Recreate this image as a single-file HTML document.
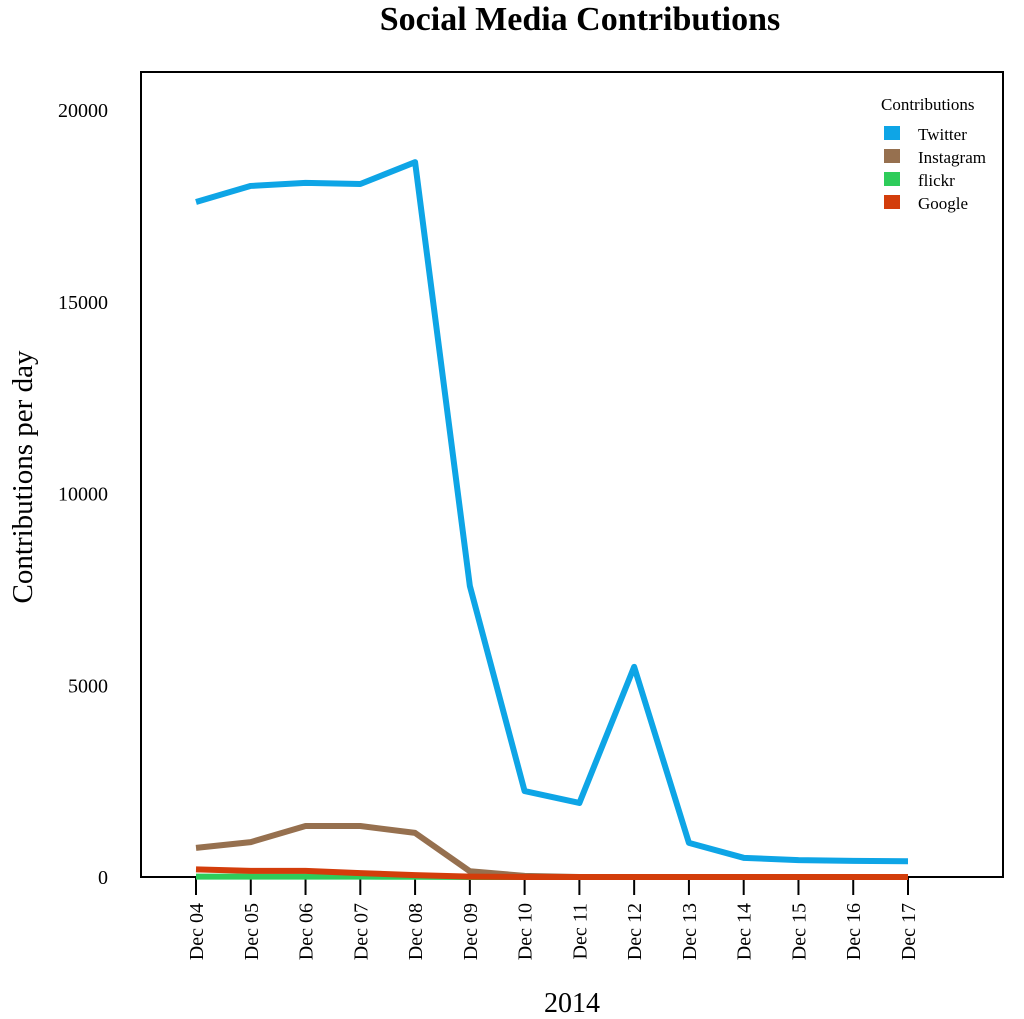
<!DOCTYPE html>
<html><head><meta charset="utf-8"><style>
body{margin:0;background:#fff;}
svg{display:block;font-family:"Liberation Serif",serif;}
</style></head><body>
<svg width="1024" height="1019" viewBox="0 0 1024 1019">
<text x="580" y="30" text-anchor="middle" font-size="34" font-weight="bold">Social Media Contributions</text>
<rect x="141" y="72" width="862" height="805" fill="none" stroke="#000" stroke-width="2"/>
<g id="yaxis"></g>
<g id="xaxis"></g>
<g id="series"></g>
<text transform="translate(32,477) rotate(-90)" text-anchor="middle" font-size="29">Contributions per day</text>
<text x="572" y="1012" text-anchor="middle" font-size="28">2014</text>
<g>
<text x="881" y="110" font-size="17">Contributions</text>
<g id="legend"></g>
</g>
</svg>
<script>
const categories=["Dec 04","Dec 05","Dec 06","Dec 07","Dec 08","Dec 09","Dec 10","Dec 11","Dec 12","Dec 13","Dec 14","Dec 15","Dec 16","Dec 17"];
const twitter=[17600,18020,18100,18070,18640,7590,2240,1930,5480,890,500,440,420,410];
const instagram=[760,910,1330,1330,1150,150,30,0,0,0,0,0,0,0];
const flickr=[10,10,10,10,5,0,0,0,0,0,0,0,0,0];
const google=[200,160,160,100,50,10,0,0,0,0,0,0,0,0];
const seriesNames=["Twitter","Instagram","flickr","Google"];
const seriesColors=["#0ea5e6","#96704f","#2ecc5a","#d33d0b"];
const yTicks=[0,5000,10000,15000,20000];
const NS="http://www.w3.org/2000/svg";
const x=i=>196+i*(908-196)/13;
const y=v=>877-v*(877-110)/20000;
function mk(tag,attrs,parent){const e=document.createElementNS(NS,tag);for(const k in attrs)e.setAttribute(k,attrs[k]);parent.appendChild(e);return e;}
const ya=document.getElementById('yaxis');
yTicks.forEach(t=>{const e=mk('text',{x:108,y:y(t)+7,'text-anchor':'end','font-size':20},ya);e.textContent=t;

});
const xa=document.getElementById('xaxis');
categories.forEach((c,i)=>{const l=mk('line',{x1:x(i),x2:x(i),y1:877,y2:895,stroke:'#000','stroke-width':2},xa);


const e=mk('text',{transform:`translate(${x(i)+7},${903}) rotate(-90)`,'text-anchor':'end','font-size':20},xa);e.textContent=c;

});
const sg=document.getElementById('series');
const data=[twitter,instagram,flickr,google];
[0,1,2,3].forEach(k=>{const p=mk('polyline',{points:data[k].map((v,i)=>x(i)+','+y(v)).join(' '),fill:'none',stroke:seriesColors[k],'stroke-width':6,'stroke-linejoin':'round'},sg);

});
const lg=document.getElementById('legend');
seriesNames.forEach((n,i)=>{const yy=134+i*23;
const r=mk('rect',{x:884,y:yy-8,width:16,height:14,fill:seriesColors[i]},lg);


const t=mk('text',{x:918,y:yy+6,'font-size':17},lg);t.textContent=n;

});
</script>
</body></html>
